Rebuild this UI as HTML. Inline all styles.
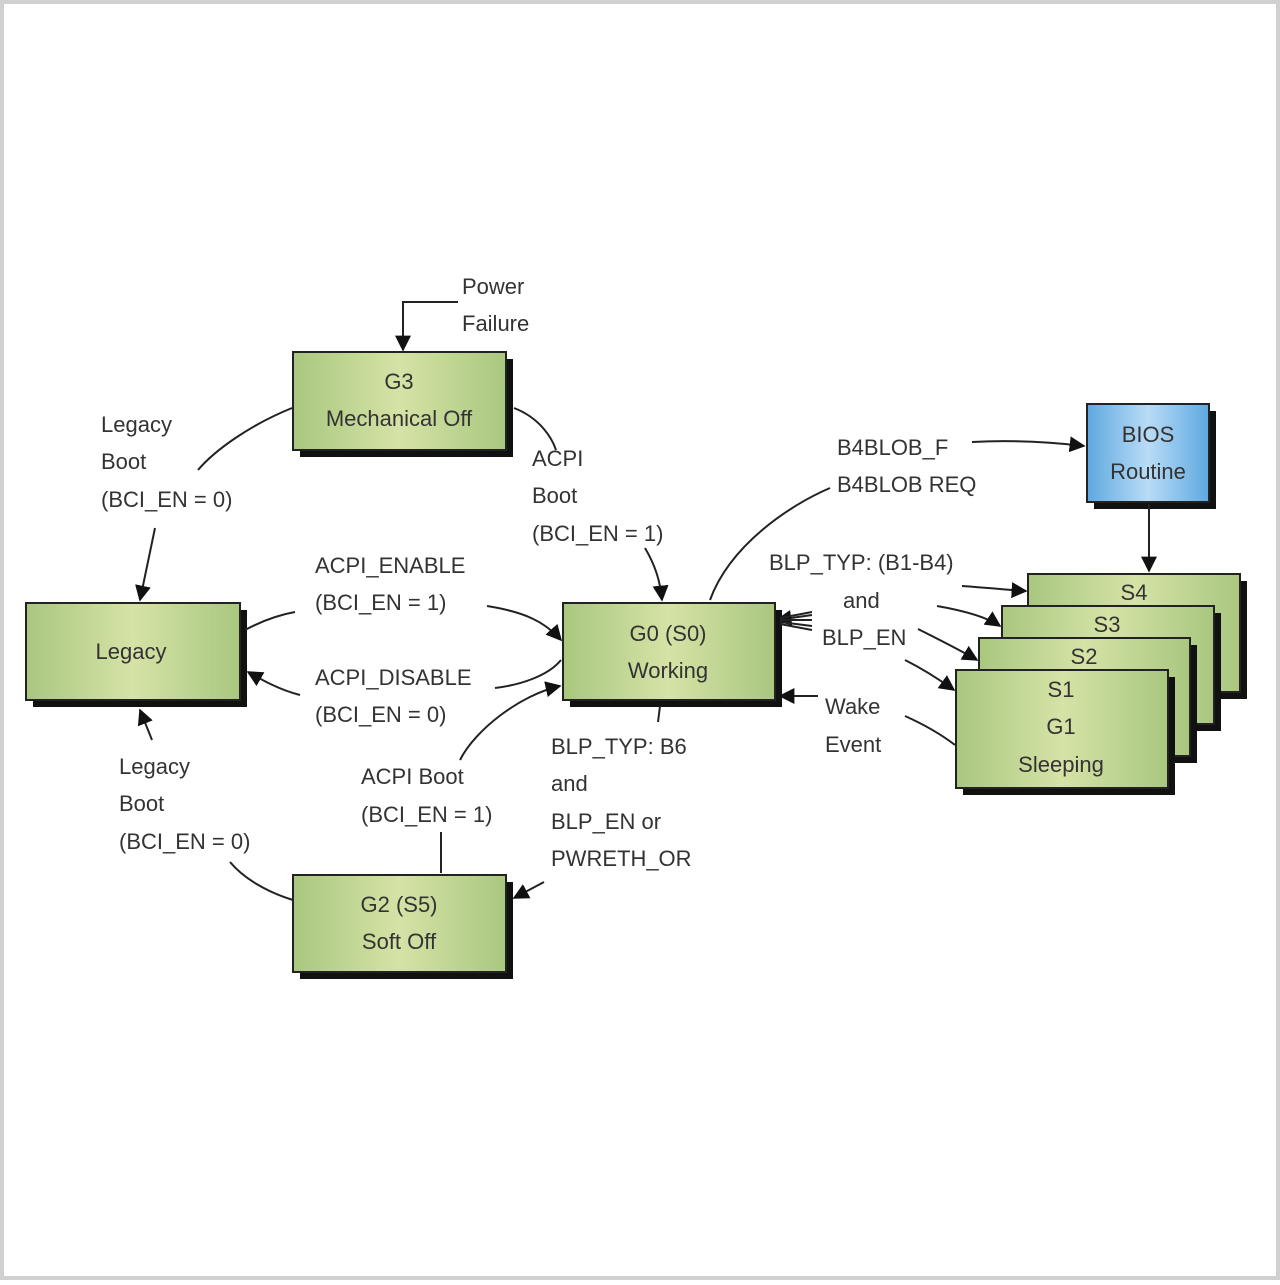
<!DOCTYPE html>
<html><head><meta charset="utf-8"><style>
html,body{margin:0;padding:0;background:#fff}
body{width:1280px;height:1280px;overflow:hidden}
text{font-family:"Liberation Sans",sans-serif;font-size:22px;fill:#333}
</style></head><body>
<svg width="1280" height="1280" viewBox="0 0 1280 1280" xmlns="http://www.w3.org/2000/svg">
<defs>
<linearGradient id="g" x1="0" y1="0" x2="1" y2="0">
<stop offset="0" stop-color="#a9c77f"/><stop offset="0.5" stop-color="#d5e3a6"/><stop offset="1" stop-color="#a9c77f"/></linearGradient>
<linearGradient id="b" x1="0" y1="0" x2="1" y2="0">
<stop offset="0" stop-color="#5ea8e0"/><stop offset="0.5" stop-color="#b8dcf6"/><stop offset="1" stop-color="#5ea8e0"/></linearGradient>
<marker id="a" viewBox="0 0 10 10" refX="9" refY="5" markerWidth="9" markerHeight="9" orient="auto-start-reverse" markerUnits="userSpaceOnUse"><path d="M0,0L10,5L0,10z" fill="#111"/></marker>
<marker id="a2" viewBox="0 0 10 10" refX="9" refY="5" markerWidth="16" markerHeight="16" orient="auto" markerUnits="userSpaceOnUse"><path d="M0,0L10,5L0,10z" fill="#111"/></marker>
</defs>
<rect x="2" y="2" width="1276" height="1276" fill="none" stroke="#d0d0d0" stroke-width="4"/>
<g stroke="#222" stroke-width="2">
<!-- boxes -->
<rect x="300" y="359" width="213" height="98" fill="#111" stroke="none"/>
<rect x="293" y="352" width="213" height="98" fill="url(#g)"/>
<rect x="33" y="610" width="214" height="97" fill="#111" stroke="none"/>
<rect x="26" y="603" width="214" height="97" fill="url(#g)"/>
<rect x="570" y="610" width="212" height="97" fill="#111" stroke="none"/>
<rect x="563" y="603" width="212" height="97" fill="url(#g)"/>
<rect x="300" y="882" width="213" height="97" fill="#111" stroke="none"/>
<rect x="293" y="875" width="213" height="97" fill="url(#g)"/>
<rect x="1094" y="411" width="122" height="98" fill="#111" stroke="none"/>
<rect x="1087" y="404" width="122" height="98" fill="url(#b)"/>
<rect x="1035" y="581" width="212" height="118" fill="#111" stroke="none"/>
<rect x="1028" y="574" width="212" height="118" fill="url(#g)"/>
<rect x="1009" y="613" width="212" height="118" fill="#111" stroke="none"/>
<rect x="1002" y="606" width="212" height="118" fill="url(#g)"/>
<rect x="986" y="645" width="211" height="118" fill="#111" stroke="none"/>
<rect x="979" y="638" width="211" height="118" fill="url(#g)"/>
<rect x="963" y="677" width="212" height="118" fill="#111" stroke="none"/>
<rect x="956" y="670" width="212" height="118" fill="url(#g)"/>
</g>
<g fill="none" stroke="#222" stroke-width="2">
<path d="M458,302 H403 V350" marker-end="url(#a2)"/>
<path d="M292,408 C250,425 215,450 198,470"/>
<path d="M155,528 L140,600" marker-end="url(#a2)"/>
<path d="M514,408 C540,418 552,438 556,450"/>
<path d="M645,548 C655,565 660,580 662,600" marker-end="url(#a2)"/>
<path d="M710,600 C730,545 790,505 830,488"/>
<path d="M972,442 C1010,440 1050,442 1084,446" marker-end="url(#a2)"/>
<path d="M1149,504 V571" marker-end="url(#a2)"/>
<path d="M245,630 C260,622 278,615 295,612"/>
<path d="M487,606 C525,612 545,622 561,640" marker-end="url(#a2)"/>
<path d="M561,660 C548,676 520,685 495,688"/>
<path d="M300,695 C280,690 262,680 248,672" marker-end="url(#a2)"/>
<path d="M460,760 C475,730 520,695 560,686" marker-end="url(#a2)"/>
<path d="M441,832 V873"/>
<path d="M660,706 L658,722"/>
<path d="M544,882 L514,898" marker-end="url(#a2)"/>
<path d="M293,900 C270,893 245,880 230,862"/>
<path d="M152,740 L140,710" marker-end="url(#a2)"/>
<path d="M962,586 C990,588 1010,590 1026,591" marker-end="url(#a2)"/>
<path d="M937,606 C960,610 985,616 1000,626" marker-end="url(#a2)"/>
<path d="M918,629 C940,640 960,650 977,660" marker-end="url(#a2)"/>
<path d="M905,660 C925,670 940,680 954,690" marker-end="url(#a2)"/>
<path d="M818,696 L780,696" marker-end="url(#a2)"/>
<path d="M905,716 C925,725 942,735 955,745"/>
<path d="M812,615 L777,620" marker-end="url(#a2)"/>
<path d="M812,612 L780,618 M812,620 L780,620 M812,626 L780,622 M812,630 L780,624"/>
</g>
<g text-anchor="middle">
<text x="399" y="389">G3</text><text x="399" y="426">Mechanical Off</text>
<text x="131" y="659">Legacy</text>
<text x="668" y="641">G0 (S0)</text><text x="668" y="678">Working</text>
<text x="399" y="912">G2 (S5)</text><text x="399" y="949">Soft Off</text>
<text x="1148" y="442">BIOS</text><text x="1148" y="479">Routine</text>
<text x="1134" y="600">S4</text><text x="1107" y="632">S3</text><text x="1084" y="664">S2</text>
<text x="1061" y="697">S1</text><text x="1061" y="734">G1</text><text x="1061" y="772">Sleeping</text>
</g>
<g>
<text x="462" y="294">Power</text><text x="462" y="331">Failure</text>
<text x="101" y="432">Legacy</text><text x="101" y="469">Boot</text><text x="101" y="507">(BCI_EN = 0)</text>
<text x="532" y="466">ACPI</text><text x="532" y="503">Boot</text><text x="532" y="541">(BCI_EN = 1)</text>
<text x="837" y="455">B4BLOB_F</text><text x="837" y="492">B4BLOB REQ</text>
<text x="769" y="570">BLP_TYP: (B1-B4)</text><text x="843" y="608">and</text><text x="822" y="645">BLP_EN</text>
<text x="315" y="573">ACPI_ENABLE</text><text x="315" y="610">(BCI_EN = 1)</text>
<text x="315" y="685">ACPI_DISABLE</text><text x="315" y="722">(BCI_EN = 0)</text>
<text x="825" y="714">Wake</text><text x="825" y="752">Event</text>
<text x="551" y="754">BLP_TYP: B6</text><text x="551" y="791">and</text><text x="551" y="829">BLP_EN or</text><text x="551" y="866">PWRETH_OR</text>
<text x="361" y="784">ACPI Boot</text><text x="361" y="822">(BCI_EN = 1)</text>
<text x="119" y="774">Legacy</text><text x="119" y="811">Boot</text><text x="119" y="849">(BCI_EN = 0)</text>
</g>
</svg>
</body></html>
